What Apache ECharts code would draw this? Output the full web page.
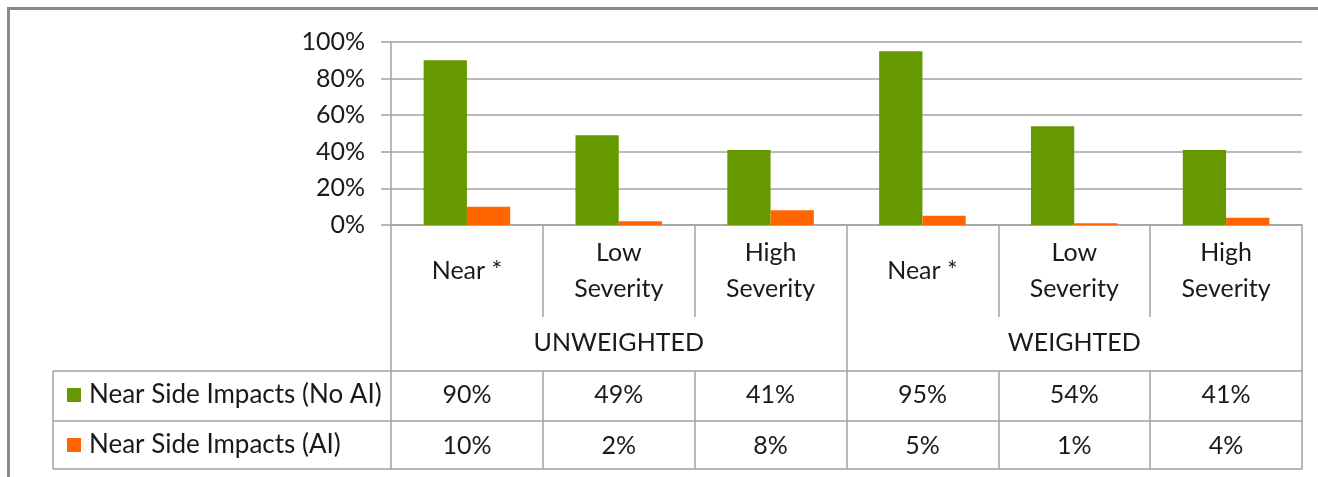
<!DOCTYPE html>
<html>
<head>
<meta charset="utf-8">
<script src="https://cdn.jsdelivr.net/npm/echarts@6/dist/echarts.min.js"></script>
<style>
  html, body { margin: 0; padding: 0; background: #fff; }
  #chart { width: 1318px; height: 477px; }
</style>
</head>
<body>
<div id="chart"></div>
<script>
// Side-impact shares by severity, unweighted vs weighted
const subCategories = ['Near *', 'Low\nSeverity', 'High\nSeverity', 'Near *', 'Low\nSeverity', 'High\nSeverity'];
const groups = ['UNWEIGHTED', 'WEIGHTED'];
const seriesNames = ['Near Side Impacts (No AI)', 'Near Side Impacts (AI)'];
const noAI = [90, 49, 41, 95, 54, 41];
const withAI = [10, 2, 8, 5, 1, 4];
const yTicks = { min: 0, max: 100, interval: 20 };

// layout
const W = 1318, H = 477;
const plotLeft = 391, plotRight = 1302, plotTop = 42, plotBottom = 225;
const row1Top = 371, row2Top = 421, tableBottom = 469, tableLeft = 53;

const FONT = 'Lato';
const TEXT = '#1a1a1a';
const LINE = '#a3a3a3';
const GREEN = '#669900';
const ORANGE = '#ff6600';

const pct = v => v + '%';

const chart = echarts.init(document.getElementById('chart'), null, { renderer: 'canvas' });

const baseAxis = {
  type: 'category',
  position: 'bottom',
  boundaryGap: true,
  axisLine: { show: false },
  axisTick: { show: false },
  splitLine: { show: false },
  axisLabel: {
    interval: 0,
    fontFamily: FONT,
    fontSize: 25,
    color: TEXT,
    verticalAlign: 'middle',
    lineHeight: 36
  }
};

function xAxisCfg(extra) {
  const a = JSON.parse(JSON.stringify(baseAxis));
  return echarts.util.merge(a, extra, true);
}

chart.setOption({
  animation: false,
  backgroundColor: '#fff',
  grid: {
    left: plotLeft,
    right: W - plotRight,
    top: plotTop,
    bottom: H - plotBottom,
    containLabel: false
  },
  legend: {
    orient: 'vertical',
    left: 67,
    top: 380,
    padding: 0,
    itemGap: 20,
    itemWidth: 14,
    itemHeight: 14,
    icon: 'rect',
    selectedMode: false,
    data: seriesNames,
    textStyle: {
      fontFamily: FONT,
      fontSize: 26,
      color: TEXT,
      lineHeight: 30,
      padding: [0, 0, 0, 3]
    }
  },
  yAxis: {
    type: 'value',
    min: yTicks.min,
    max: yTicks.max,
    interval: yTicks.interval,
    axisLine: { show: true, lineStyle: { color: LINE, width: 1.5 } },
    axisTick: { show: true, length: 10, lineStyle: { color: LINE, width: 1.5 } },
    splitLine: { show: true, lineStyle: { color: LINE, width: 1.5 } },
    axisLabel: {
      formatter: '{value}%',
      margin: 26,
      fontFamily: FONT,
      fontSize: 25,
      color: TEXT
    }
  },
  xAxis: [
    // sub-category labels with short dividers
    xAxisCfg({
      data: subCategories,
      axisLine: { show: true, lineStyle: { color: LINE, width: 1.5 } },
      axisTick: { show: true, length: 92, lineStyle: { color: LINE, width: 1.5 } },
      axisLabel: { margin: 46 }
    }),
    // group labels with full-height dividers
    xAxisCfg({
      data: groups,
      axisTick: { show: true, length: tableBottom - plotBottom, lineStyle: { color: LINE, width: 1.5 } },
      axisLabel: { margin: 118 }
    }),
    // data table row: No AI
    xAxisCfg({
      data: noAI.map(pct),
      offset: row1Top - plotBottom,
      axisLine: { show: true, lineStyle: { color: LINE, width: 1.5 } },
      axisTick: { show: true, length: row2Top - row1Top, lineStyle: { color: LINE, width: 1.5 } },
      axisLabel: { margin: 24 }
    }),
    // data table row: AI
    xAxisCfg({
      data: withAI.map(pct),
      offset: row2Top - plotBottom,
      axisLine: { show: true, lineStyle: { color: LINE, width: 1.5 } },
      axisTick: { show: true, length: tableBottom - row2Top, lineStyle: { color: LINE, width: 1.5 } },
      axisLabel: { margin: 25 }
    }),
    // bottom border of the data table
    xAxisCfg({
      data: subCategories,
      offset: tableBottom - plotBottom,
      axisLine: { show: true, lineStyle: { color: LINE, width: 1.5 } },
      axisLabel: { show: false }
    })
  ],
  series: [
    {
      name: seriesNames[0],
      type: 'bar',
      xAxisIndex: 0,
      data: noAI,
      barGap: '0%',
      barCategoryGap: '43%',
      itemStyle: { color: GREEN }
    },
    {
      name: seriesNames[1],
      type: 'bar',
      xAxisIndex: 0,
      data: withAI,
      barGap: '0%',
      barCategoryGap: '43%',
      itemStyle: { color: ORANGE }
    }
  ],
  graphic: [
    // outer frame
    {
      type: 'rect',
      silent: true,
      shape: { x: 8.5, y: 8.5, width: W + 20, height: H + 20 },
      style: { fill: 'none', stroke: '#8a8a8a', lineWidth: 3 }
    },
    // legend column of the data table
    {
      type: 'group',
      silent: true,
      children: [
        { type: 'line', shape: { x1: tableLeft, y1: row1Top, x2: plotLeft, y2: row1Top }, style: { stroke: LINE, lineWidth: 1.5 } },
        { type: 'line', shape: { x1: tableLeft, y1: row2Top, x2: plotLeft, y2: row2Top }, style: { stroke: LINE, lineWidth: 1.5 } },
        { type: 'line', shape: { x1: tableLeft, y1: tableBottom, x2: plotLeft, y2: tableBottom }, style: { stroke: LINE, lineWidth: 1.5 } },
        { type: 'line', shape: { x1: tableLeft, y1: row1Top, x2: tableLeft, y2: tableBottom }, style: { stroke: LINE, lineWidth: 1.5 } }
      ]
    }
  ]
});
</script>
</body>
</html>
